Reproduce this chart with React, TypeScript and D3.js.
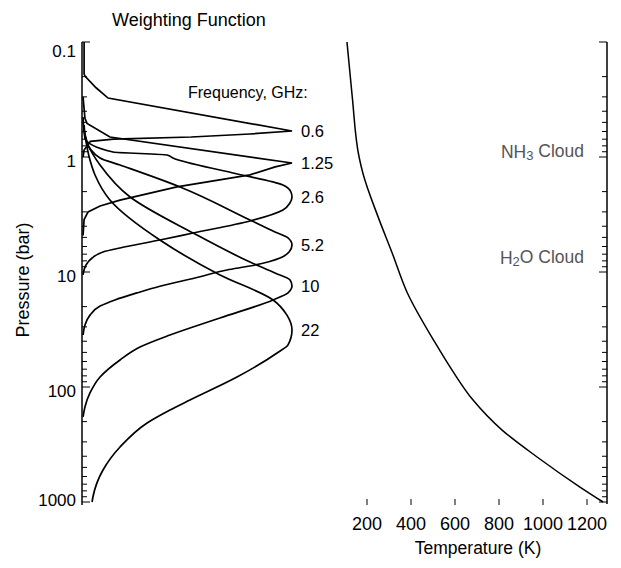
import React from 'react';
import * as d3 from 'd3';

// weighting functions: [pressure (bar), normalised weight]
const wf06: [number, number][] = [
  [0.1, 0.01], [0.19, 0.01], [0.2, 0.016], [0.25, 0.067], [0.307, 0.124],
  [0.594, 1.0], [0.631, 0.8], [0.67, 0.52], [0.7, 0.15], [0.73, 0.04], [0.87, 0.01], [1.0, 0.005],
];
const wf125: [number, number][] = [
  [0.3, 0.005], [0.46, 0.014], [0.51, 0.024], [0.67, 0.133], [1.128, 1.0], [1.22, 0.92],
  [1.43, 0.8], [1.82, 0.452], [2.37, 0.181], [2.67, 0.086], [3.0, 0.029], [3.5, 0.01], [4.8, 0.005],
];
const wf26: [number, number][] = [
  [0.45, 0.005], [0.684, 0.014], [0.905, 0.148], [0.961, 0.405], [1.02, 0.433], [1.377, 0.719],
  [1.752, 0.957], [2.014, 0.995], [2.228, 1.0], [2.512, 0.99], [2.89, 0.957], [3.6, 0.8],
  [4.58, 0.529], [5.27, 0.371], [6.18, 0.181], [6.7, 0.1], [7.55, 0.048], [8.69, 0.019], [10.6, 0.005],
];
const wf52: [number, number][] = [
  [0.527, 0.01], [0.711, 0.019], [1.02, 0.086], [1.174, 0.181], [1.823, 0.467], [3.53, 0.8],
  [4.49, 0.919], [5.06, 0.981], [5.82, 1.0], [6.7, 0.986], [7.55, 0.943], [8.87, 0.8], [9.6, 0.69],
  [11.0, 0.562], [13.3, 0.371], [15.2, 0.262], [17.5, 0.157], [19.8, 0.086], [23.7, 0.038],
  [28.9, 0.014], [35.3, 0.005],
];
const wf10: [number, number][] = [
  [0.582, 0.01], [0.787, 0.029], [1.174, 0.086], [2.228, 0.229], [4.58, 0.529], [8.19, 0.8],
  [10.2, 0.919], [11.7, 0.99], [13.2, 1.0], [15.2, 0.981], [17.5, 0.91], [25.1, 0.657],
  [35.3, 0.419], [44.9, 0.276], [58.2, 0.181], [81.9, 0.086], [112.7, 0.038], [149, 0.014], [182, 0.005],
];
const wf22: [number, number][] = [
  [0.644, 0.014], [1.062, 0.038], [1.434, 0.062], [2.365, 0.133], [5.27, 0.371], [10.6, 0.657],
  [17.5, 0.91], [23.7, 0.976], [31.9, 1.0], [43.1, 0.981], [50.6, 0.929], [81.9, 0.738],
  [129.7, 0.514], [158.5, 0.419], [205.6, 0.31], [332.6, 0.181], [527, 0.1], [905, 0.052], [1000, 0.048],
];
const curves = [wf06, wf125, wf26, wf52, wf10, wf22];
const freqLabels = ['0.6', '1.25', '2.6', '5.2', '10', '22'];
const sharpTip = [true, true, false, false, false, false];

// temperature profile
const profileP = [0.1, 0.3, 1, 1.4, 3.3, 6.8, 15, 41, 71, 130, 237, 406, 741, 1000];
const profileT = [109, 133, 164, 182, 250, 314, 382, 509, 586, 682, 814, 973, 1168, 1273];

const pressureLabels = ['0.1', '1', '10', '100', '1000'];
const tempTicks = [200, 400, 600, 800, 1000, 1200];
const clouds = [
  { name: 'NH', sub: '3', rest: ' Cloud', p: 0.9 },
  { name: 'H', sub: '2', rest: 'O Cloud', p: 7.5 },
];

const W = 621;
const H = 568;
const font = "'Liberation Sans', Arial, Helvetica, sans-serif";

export default function App() {
  const y = d3.scaleLog().domain([0.1, 1000]).range([42, 502]);
  const xw = d3.scaleLinear().domain([0, 1]).range([82, 292]);
  const xt = d3.scaleLinear().domain([200, 1200]).range([367, 587]);
  const axisLeft = xw(0);
  const axisRight = 607;

  const logTicks = y.ticks();
  const isMajor = (v: number) => Math.abs(Math.log10(v) - Math.round(Math.log10(v))) < 1e-6;

  const tempLine = d3
    .line<number>()
    .x((_, i) => xt(profileT[i]))
    .y((p) => y(p))
    .curve(d3.curveMonotoneY);

  return (
    <svg width={W} height={H} style={{ position: 'absolute', left: 0, top: 0, background: '#fff' }} fontFamily={font}>
      {/* title */}
      <text x={189} y={26} textAnchor="middle" fontSize={18}>Weighting Function</text>

      {/* left pressure axis */}
      <line x1={axisLeft} x2={axisLeft} y1={y(0.1)} y2={y(1000) + 3} stroke="#000" strokeWidth={1.5} />
      {logTicks.map((v, i) => (
        <line key={i} x1={axisLeft} x2={axisLeft + (isMajor(v) ? 8 : 5)} y1={y(v)} y2={y(v)} stroke="#000" strokeWidth={1} />
      ))}
      {pressureLabels.map((l) => (
        <text key={l} x={76} y={Math.min(Math.max(y(+l) + 4, 51), 500)} dy="0.35em" textAnchor="end" fontSize={17}>{l}</text>
      ))}
      <text transform={`translate(29,280) rotate(-90)`} textAnchor="middle" fontSize={18}>Pressure (bar)</text>

      {/* weighting curves */}
      {curves.map((c, i) => {
        const line = d3
          .line<[number, number]>()
          .x((d) => xw(d[1]))
          .y((d) => y(d[0]))
          .curve(sharpTip[i] ? d3.curveLinear : d3.curveMonotoneY);
        return <path key={i} d={line(c) || ''} fill="none" stroke="#000" strokeWidth={1.7} />;
      })}
      <text x={188} y={98} fontSize={16}>Frequency, GHz:</text>
      {curves.map((c, i) => {
        const tip = c.reduce((a, b) => (b[1] > a[1] ? b : a));
        return (
          <text key={i} x={301} y={y(tip[0])} dy="0.35em" fontSize={16.5}>{freqLabels[i]}</text>
        );
      })}

      {/* temperature profile */}
      <path d={tempLine(profileP) || ''} fill="none" stroke="#000" strokeWidth={1.5} />
      <line x1={axisRight} x2={axisRight} y1={y(0.1)} y2={y(1000) + 2} stroke="#000" strokeWidth={1.5} />
      {logTicks.map((v, i) => (
        <line key={i} x1={axisRight} x2={axisRight - (isMajor(v) ? 8 : 5)} y1={y(v)} y2={y(v)} stroke="#000" strokeWidth={1} />
      ))}
      {clouds.map((c) => (
        <text key={c.name} x={584} y={y(c.p)} dy="0.35em" textAnchor="end" fontSize={17.5} fill="#555">
          {c.name}
          <tspan fontSize={13} dy="0.2em">{c.sub}</tspan>
          <tspan dy="-0.2em">{c.rest}</tspan>
        </text>
      ))}
      {tempTicks.map((t) => (
        <g key={t}>
          <line x1={xt(t)} x2={xt(t)} y1={499} y2={505} stroke="#000" strokeWidth={1} />
          <text x={xt(t)} y={530} textAnchor="middle" fontSize={18}>{t}</text>
        </g>
      ))}
      <text x={478} y={554} textAnchor="middle" fontSize={17.5}>Temperature (K)</text>
    </svg>
  );
}
